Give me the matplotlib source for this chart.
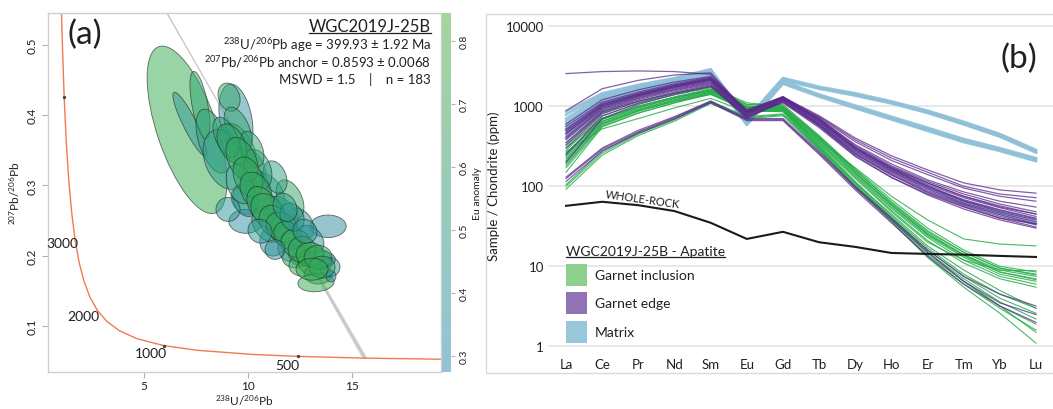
import numpy as np
import matplotlib
matplotlib.use("Agg")
import matplotlib.pyplot as plt
from matplotlib.patches import Ellipse, Rectangle
from matplotlib.transforms import Affine2D
from matplotlib.colors import LinearSegmentedColormap, Normalize
import matplotlib.cm as cm
from matplotlib.lines import Line2D

FONT = "Lato"
plt.rcParams["font.family"] = [FONT, "DejaVu Sans"]
plt.rcParams["mathtext.fontset"] = "custom"
plt.rcParams["mathtext.rm"] = FONT
plt.rcParams["mathtext.it"] = FONT
plt.rcParams["mathtext.bf"] = FONT

# ---------------- Panel (a) data: Tera-Wasserburg ----------------
# ellipse centres (238U/206Pb, 207Pb/206Pb), half-axes (2 sigma), correlation, Eu anomaly
ell_x   = [7.07, 7.21, 9.42, 7.69, 8.32, 9.52, 8.90, 9.09, 10.10, 10.34, 10.82, 9.86, 9.90, 9.90, 11.20,
           13.85, 12.50, 12.98, 11.54, 12.02, 11.30, 10.48, 9.62, 9.04, 10.96, 11.68, 12.02, 12.50,
           12.26, 12.74, 13.22, 13.37, 13.27, 13.94, 13.43, 13.99,
           9.52, 8.94, 10.19, 9.23, 9.71, 10.00, 10.385, 10.67, 10.96, 11.25, 11.635, 11.92, 12.31,
           12.60, 12.98, 13.37, 13.56, 13.08, 12.12, 12.74, 11.78, 10.58, 11.30]
ell_sx  = [1.92, 0.82, 0.82, 0.48, 0.82, 0.87, 1.06, 0.53, 0.77, 0.72, 0.96, 0.67, 0.82, 0.63, 0.63,
           0.87, 0.67, 0.67, 0.87, 0.67, 0.58, 0.67, 0.67, 0.58, 0.77, 0.63, 0.58, 0.58,
           0.63, 0.77, 0.82, 0.67, 0.87, 0.48, 0.77, 0.24,
           0.67, 0.625, 0.58, 0.72, 0.77, 0.72, 0.77, 0.72, 0.82, 0.72, 0.77, 0.67, 0.72,
           0.67, 0.67, 0.67, 0.625, 0.77, 0.58, 0.58, 0.58, 0.58, 0.48]
ell_y   = [0.379, 0.387, 0.393, 0.414, 0.363, 0.356, 0.337, 0.4255, 0.326, 0.302, 0.2875, 0.280, 0.249,
           0.279, 0.2207, 0.242, 0.245, 0.2235, 0.259, 0.280, 0.312, 0.323, 0.302, 0.266, 0.245, 0.235,
           0.212, 0.202, 0.199, 0.188, 0.192, 0.174, 0.162, 0.184, 0.195, 0.171,
           0.380, 0.3686, 0.3515, 0.359, 0.337, 0.312, 0.292, 0.273, 0.263, 0.249, 0.2406, 0.229, 0.218,
           0.209, 0.202, 0.198, 0.184, 0.181, 0.255, 0.235, 0.269, 0.235, 0.209]
ell_sy  = [0.119, 0.0455, 0.0512, 0.048, 0.0455, 0.0327, 0.0427, 0.020, 0.028, 0.024, 0.031, 0.021, 0.017,
           0.023, 0.021, 0.016, 0.023, 0.020, 0.0256, 0.028, 0.023, 0.028, 0.028, 0.017, 0.0256, 0.021,
           0.020, 0.017, 0.016, 0.017, 0.020, 0.014, 0.013, 0.014, 0.012, 0.008,
           0.0313, 0.0284, 0.0256, 0.0284, 0.0313, 0.0284, 0.027, 0.0256, 0.0256, 0.0228, 0.0213, 0.020, 0.020,
           0.0185, 0.017, 0.017, 0.0156, 0.0156, 0.020, 0.017, 0.020, 0.017, 0.014]
ell_rho = [-0.62, -0.90, -0.30, -0.60, -0.50, -0.50, -0.30, -0.20, -0.40, -0.30, -0.30, -0.20, 0.0,
           -0.20, 0.0, 0.0, -0.30, -0.30, -0.30, -0.40, -0.30, -0.30, -0.30, 0.0, -0.30, -0.20,
           0.0, -0.20, 0.0, 0.10, 0.0, 0.0, 0.10, 0.0, 0.0, 0.0,
           -0.50, -0.50, -0.40, -0.40, -0.40, -0.30, -0.30, -0.30, -0.30, -0.20, -0.20, -0.20, -0.10,
           0.0, 0.0, 0.0, 0.0, 0.0, -0.20, -0.10, -0.20, -0.10, 0.0]
ell_eu  = [0.80, 0.48, 0.42, 0.68, 0.62, 0.72, 0.55, 0.72, 0.70, 0.75, 0.60, 0.70, 0.38, 0.45, 0.38,
           0.36, 0.45, 0.42, 0.72, 0.70, 0.60, 0.62, 0.60, 0.45, 0.65, 0.60, 0.38, 0.40,
           0.70, 0.78, 0.80, 0.72, 0.80, 0.50, 0.38, 0.35,
           0.68, 0.62, 0.66, 0.70, 0.74, 0.76, 0.72, 0.78, 0.74, 0.70, 0.76, 0.72, 0.78,
           0.74, 0.80, 0.76, 0.70, 0.82, 0.50, 0.48, 0.55, 0.50, 0.45]

# concordia (Tera-Wasserburg) points, ages in Ma
conc_age = [4500, 4300, 4000, 3750, 3500, 3250, 3000, 2750, 2500, 2250, 2000, 1750, 1500, 1250,
            1000, 800, 600, 500, 400, 300]
conc_x = [0.990, 1.054, 1.163, 1.267, 1.387, 1.525, 1.687, 1.880, 2.111, 2.394, 2.749, 3.206, 3.817,
          4.673, 5.959, 7.568, 10.252, 12.400, 15.621, 20.992]
conc_y = [0.597, 0.521, 0.425, 0.360, 0.306, 0.261, 0.2227, 0.191, 0.1644, 0.1419, 0.1230, 0.1071,
          0.0936, 0.0822, 0.0725, 0.0658, 0.0599, 0.0572, 0.0547, 0.0524]
age_labels = ["3000", "2000", "1000", "500"]
age_label_x = [1.06, 2.09, 5.34, 11.87]
age_label_y = [0.2185, 0.115, 0.0614, 0.0443]
tick_ages_x = [1.163, 5.959, 12.400]
tick_ages_y = [0.425, 0.0725, 0.0572]

anchor = 0.8593
anchor_err = 0.0068
intercept_x = 15.62
intercept_y = 0.0547

# ---------------- Panel (b) data: REE ----------------
ree = ["La", "Ce", "Pr", "Nd", "Sm", "Eu", "Gd", "Tb", "Dy", "Ho", "Er", "Tm", "Yb", "Lu"]

whole_rock = [57, 64, 58, 49, 35, 22, 27, 20, 17.5, 14.7, 14.3, 14.0, 13.5, 13.1]

matrix = [
    [850, 1450, 1850, 2250, 2900, 700, 2250, 1750, 1450, 1150, 880, 640, 450, 285],
    [780, 1400, 1800, 2200, 2800, 680, 2200, 1700, 1400, 1120, 860, 620, 440, 278],
    [700, 1350, 1750, 2150, 2750, 660, 2150, 1680, 1380, 1100, 840, 600, 425, 270],
    [650, 1300, 1700, 2100, 2650, 640, 2100, 1650, 1350, 1080, 820, 590, 415, 262],
    [600, 1250, 1650, 2050, 2600, 620, 2050, 1400, 1020, 740, 540, 390, 300, 225],
    [560, 1200, 1600, 2000, 2500, 600, 2000, 1370, 990, 720, 520, 378, 290, 218],
    [520, 1150, 1550, 1950, 2450, 590, 1950, 1340, 960, 700, 505, 365, 282, 210],
    [500, 1100, 1500, 1900, 2400, 580, 1900, 1310, 940, 680, 490, 355, 275, 205],
    [450, 1000, 1400, 1800, 2200, 800, 1250, 640, 290, 165, 100, 65, 48, 36],
    [400, 950, 1350, 1750, 2150, 780, 1230, 620, 280, 158, 95, 60, 45, 34],
]

garnet_inclusion = [
    [320, 820, 1150, 1450, 1750, 1050, 1050, 430, 165, 68, 30, 16, 10, 8.5],
    [280, 760, 1080, 1380, 1700, 1000, 1000, 410, 158, 64, 28, 15, 9.5, 8.0],
    [250, 700, 1000, 1300, 1650, 980, 980, 400, 150, 60, 26, 14, 9, 7.5],
    [230, 650, 950, 1250, 1600, 950, 950, 385, 145, 58, 25, 13.5, 8.5, 7.0],
    [210, 620, 900, 1200, 1550, 920, 930, 370, 140, 55, 24, 13, 8, 6.5],
    [190, 580, 860, 1150, 1500, 900, 900, 360, 135, 53, 23, 12, 7.5, 6.0],
    [170, 560, 820, 1100, 1450, 880, 880, 350, 130, 50, 21, 11, 7, 5.5],
    [270, 520, 700, 950, 1250, 850, 870, 340, 125, 48, 20, 12, 9, 8.8],
    [200, 600, 880, 1150, 1400, 950, 950, 380, 170, 75, 38, 22, 19, 18],
    [300, 700, 1000, 1300, 1600, 1000, 950, 330, 115, 43, 17, 8, 4.5, 3.0],
    [260, 680, 960, 1250, 1550, 960, 920, 320, 110, 41, 16, 7.5, 4.0, 2.6],
    [220, 640, 920, 1200, 1500, 940, 900, 310, 105, 40, 15, 7, 3.6, 2.2],
    [180, 600, 880, 1150, 1450, 900, 870, 300, 100, 38, 14, 6.5, 3.2, 1.9],
    [150, 550, 820, 1100, 1400, 880, 850, 290, 98, 36, 13, 6, 3.0, 1.6],
    [100, 260, 450, 680, 1120, 720, 780, 290, 100, 40, 15, 6.5, 3.2, 1.5],
    [92, 245, 430, 650, 1080, 700, 760, 280, 95, 37, 13, 5.5, 2.6, 1.1],
    [105, 275, 470, 700, 1150, 740, 800, 310, 110, 45, 18, 9, 5, 3.0],
    [240, 690, 980, 1280, 1580, 1050, 1000, 420, 160, 62, 27, 15, 9.5, 7.8],
    [350, 850, 1150, 1450, 1750, 1100, 1000, 400, 150, 58, 25, 14, 8.5, 6.8],
]

garnet_edge = [
    [2550, 2700, 2750, 2700, 2500, 800, 1250, 650, 300, 170, 110, 75, 55, 45],
    [880, 1650, 2100, 2450, 2600, 850, 1300, 700, 330, 190, 120, 85, 65, 55],
    [560, 1120, 1500, 1900, 2300, 900, 1300, 700, 320, 180, 115, 80, 60, 48],
    [520, 1080, 1450, 1850, 2250, 880, 1280, 680, 310, 175, 110, 75, 57, 45],
    [480, 1040, 1420, 1800, 2200, 860, 1260, 660, 300, 168, 105, 72, 54, 42],
    [450, 1000, 1380, 1760, 2150, 840, 1240, 640, 290, 160, 100, 68, 51, 40],
    [420, 960, 1340, 1720, 2100, 820, 1220, 620, 280, 155, 96, 65, 48, 38],
    [400, 930, 1300, 1680, 2050, 800, 1200, 600, 270, 150, 92, 62, 46, 36],
    [380, 900, 1270, 1640, 2000, 780, 1180, 590, 260, 145, 88, 60, 44, 34],
    [350, 870, 1240, 1600, 1950, 760, 1150, 580, 255, 140, 85, 58, 42, 33],
    [330, 840, 1200, 1560, 1900, 740, 1120, 570, 250, 138, 83, 56, 40, 31],
    [500, 1050, 1400, 1800, 2200, 850, 1300, 760, 400, 240, 160, 110, 90, 82],
    [460, 1000, 1350, 1750, 2150, 830, 1280, 740, 380, 225, 150, 100, 80, 72],
    [300, 800, 1150, 1500, 1850, 720, 1200, 720, 360, 210, 140, 95, 75, 65],
    [125, 290, 480, 720, 1130, 680, 680, 260, 95, 38, 15, 6.5, 3.5, 2.5],
    [115, 275, 460, 690, 1100, 660, 660, 250, 90, 35, 13.5, 6, 3.2, 2.0],
    [130, 300, 500, 740, 1160, 700, 700, 270, 100, 40, 16, 7.5, 4.5, 3.2],
    [250, 750, 1100, 1450, 1800, 700, 1150, 560, 240, 130, 78, 52, 38, 30],
    [200, 700, 1050, 1400, 1750, 750, 1100, 540, 235, 128, 80, 55, 40, 34],
    [600, 1200, 1600, 2000, 2350, 880, 1320, 690, 300, 165, 100, 66, 50, 39],
]

legend_labels = ["Garnet inclusion", "Garnet edge", "Matrix"]

# ---------------- Figure ----------------
W, H = 1053, 410
fig = plt.figure(figsize=(W / 100, H / 100), dpi=100)


def fx(px):
    return px / W


def fy(py):
    return 1 - py / H


TXT = "#231f20"
GRAY_SPINE = "#d0d0d0"

# Panel (a)
axL, axR, axT, axB = 48, 441, 14, 373
ax = fig.add_axes([fx(axL), fy(axB), fx(axR) - fx(axL), fy(axT) - fy(axB)])
ax.set_xlim(0.385, 19.28)
ax.set_ylim(0.035, 0.545)

eu_norm = Normalize(vmin=0.274, vmax=0.844)
ell_cmap = LinearSegmentedColormap.from_list("eu", ["#2f86ad", "#2e9e8c", "#35ad45"])
bar_cmap = LinearSegmentedColormap.from_list("eu_bar", ["#93c3d8", "#98cbb8", "#a3d59c"])

# anchored regression line with envelope
ax.fill([0, 0, intercept_x + 0.12, intercept_x - 0.12],
        [anchor + anchor_err, anchor - anchor_err, intercept_y, intercept_y],
        color="#d2d2d2", lw=0, zorder=1)
ax.plot([0, intercept_x], [anchor, intercept_y], color="#c2c2c2", lw=0.8, zorder=1)

# concordia
ax.plot(conc_x, conc_y, color="#f07a55", lw=1.0, zorder=2)
ax.plot(tick_ages_x, tick_ages_y, ls="none", marker="o", ms=1.4, color="#444444", zorder=3)
for lab, lx, ly in zip(age_labels, age_label_x, age_label_y):
    ax.text(lx, ly, lab, ha="center", va="center", fontsize=10, color=TXT, zorder=5)

# ellipses
for x, sx, y, sy, r, e in zip(ell_x, ell_sx, ell_y, ell_sy, ell_rho, ell_eu):
    M = np.array([[sx, 0.0, x], [r * sy, sy * np.sqrt(1 - r * r), y], [0, 0, 1]])
    el = Ellipse((0, 0), 2, 2, facecolor=ell_cmap(eu_norm(e)), alpha=0.5,
                 edgecolor="none", zorder=4)
    el.set_transform(Affine2D(M) + ax.transData)
    ax.add_patch(el)
    el2 = Ellipse((0, 0), 2, 2, facecolor="none", edgecolor="#22332a", lw=0.6, alpha=0.7, zorder=4)
    el2.set_transform(Affine2D(M) + ax.transData)
    ax.add_patch(el2)

for s in ax.spines.values():
    s.set_color(GRAY_SPINE)
    s.set_linewidth(1.0)
ax.set_xticks([5, 10, 15])
ax.set_yticks([0.1, 0.2, 0.3, 0.4, 0.5])
ax.tick_params(axis="both", colors="#b0b0b0", length=4, width=0.8, labelsize=8.5,
               labelcolor=TXT)
ax.tick_params(axis="x", pad=2)
for lab in ax.get_yticklabels():
    lab.set_rotation(90)
    lab.set_va("center")
ax.set_xlabel(r"$^{238}$U/$^{206}$Pb", fontsize=8.5, color=TXT, labelpad=1)
ax.set_ylabel(r"$^{207}$Pb/$^{206}$Pb", fontsize=8.5, color=TXT, labelpad=3)

ax.text(0.05, 0.985, "(a)", transform=ax.transAxes, fontsize=24, ha="left", va="top", color=TXT)

title_t = ax.text(0.975, 0.9638, "WGC2019J-25B", transform=ax.transAxes, fontsize=12,
                  ha="right", va="center", color=TXT)
ax.text(0.975, 0.9136, r"$^{238}$U/$^{206}$Pb age = 399.93 ± 1.92 Ma", transform=ax.transAxes,
        fontsize=9.5, ha="right", va="center", color=TXT)
ax.text(0.975, 0.8663, r"$^{207}$Pb/$^{206}$Pb anchor = 0.8593 ± 0.0068", transform=ax.transAxes,
        fontsize=9.5, ha="right", va="center", color=TXT)
ax.text(0.975, 0.8162, "MSWD = 1.5    |    n = 183", transform=ax.transAxes,
        fontsize=9.5, ha="right", va="center", color=TXT)

# colorbar
cax = fig.add_axes([fx(442), fy(axB), fx(451) - fx(442), fy(axT) - fy(axB)])
sm = cm.ScalarMappable(norm=eu_norm, cmap=bar_cmap)
cb = fig.colorbar(sm, cax=cax)
cb.outline.set_visible(False)
cb.set_ticks([0.3, 0.4, 0.5, 0.6, 0.7, 0.8])
cax.tick_params(colors="#b0b0b0", length=3, width=0.8, labelsize=7.5, labelcolor=TXT)
for lab in cax.get_yticklabels():
    lab.set_rotation(90)
    lab.set_va("center")
cb.set_label("Eu anomaly", fontsize=7.5, color=TXT, labelpad=3)

# Panel (b)
fig.add_artist(Rectangle((fx(486), fy(374)), fx(1070) - fx(486), fy(15) - fy(374),
                         transform=fig.transFigure, fill=False, ec="#dadada", lw=1.0))
bL, bR, bT, bB = 548, 1053, 20, 352
ax2 = fig.add_axes([fx(bL), fy(bB), fx(bR) - fx(bL), fy(bT) - fy(bB)])
xi = np.arange(len(ree))
ax2.set_yscale("log")
ax2.set_xlim(-0.5, 13.47)
ax2.set_ylim(0.878, 12240)

C_MAT, C_EDGE, C_INC = "#8fc0d8", "#5b2a8c", "#27ad4a"
for row in matrix:
    ax2.plot(xi, row, color=C_MAT, lw=1.8, alpha=0.9, zorder=2)
for row in garnet_inclusion:
    ax2.plot(xi, row, color=C_INC, lw=0.8, alpha=0.85, zorder=3)
for row in garnet_edge:
    ax2.plot(xi, row, color=C_EDGE, lw=0.9, alpha=0.75, zorder=4)
ax2.plot(xi, whole_rock, color="#1a1a1a", lw=1.5, zorder=5)
ax2.text(2.13, 70, "WHOLE-ROCK", fontsize=8, rotation=-8, ha="center", va="center",
         color=TXT, zorder=6)

for s in ax2.spines.values():
    s.set_visible(False)
ax2.set_yticks([1, 10, 100, 1000, 10000])
ax2.set_yticklabels(["1", "10", "100", "1000", "10000"])
ax2.yaxis.set_minor_locator(matplotlib.ticker.NullLocator())
ax2.set_xticks(xi)
ax2.set_xticklabels(ree)
ax2.tick_params(axis="both", length=0, labelsize=9.5, labelcolor=TXT)
ax2.tick_params(axis="y", pad=3)
ax2.tick_params(axis="x", pad=5)
ax2.yaxis.grid(True, color="#e4e4e4", lw=1.2, zorder=0)
ax2.set_axisbelow(True)
ax2.set_ylabel("Sample / Chondrite (ppm)", fontsize=9.5, color=TXT, labelpad=4)

ax2.text(0.933, 0.8825, "(b)", transform=ax2.transAxes, fontsize=24, ha="center", va="center",
         color=TXT)

# legend (manual)
lt = ax2.text(0.0356, 0.3012, "WGC2019J-25B - Apatite", transform=ax2.transAxes, fontsize=10,
              ha="left", va="center", color=TXT)
patch_cols = ["#8dcf8c", "#9173b5", "#99c7dc"]
pb = [0.1958, 0.1114, 0.0241]
tc = [0.2289, 0.1446, 0.0572]
for col, b, t, lab in zip(patch_cols, pb, tc, legend_labels):
    ax2.add_patch(Rectangle((0.0356, b), 0.0416, 0.0663, transform=ax2.transAxes,
                            facecolor=col, edgecolor="none", zorder=6))
    ax2.text(0.0931, t, lab, transform=ax2.transAxes, fontsize=10, ha="left", va="center",
             color=TXT, zorder=6)

# underlines
fig.canvas.draw()
r = fig.canvas.get_renderer()
for t in (title_t, lt):
    bb = t.get_window_extent(r)
    yy = bb.y0 + 0.5
    fig.add_artist(Line2D([bb.x0 / W, bb.x1 / W], [yy / H, yy / H], transform=fig.transFigure,
                          color=TXT, lw=0.9))

fig.savefig("out.png", dpi=100)
